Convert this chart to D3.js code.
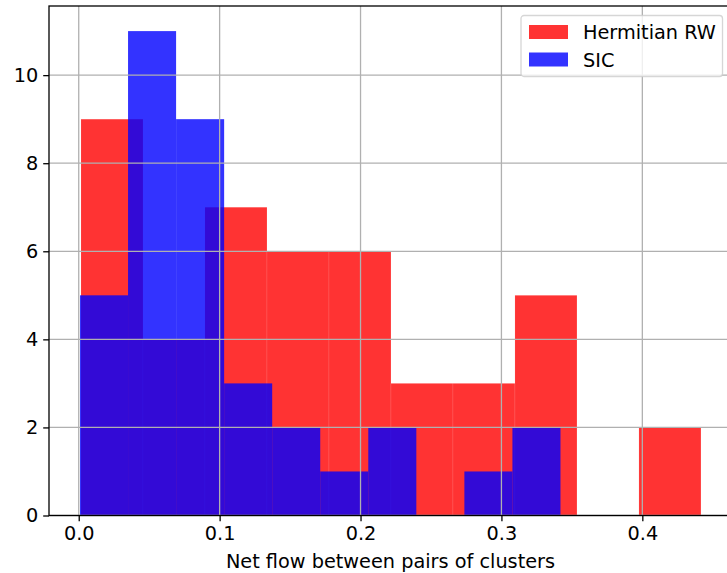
<!DOCTYPE html>
<html>
<head>
<meta charset="utf-8">
<script src="https://cdn.jsdelivr.net/npm/d3@7"></script>
<style>
  body { margin: 0; background: #fff; }
  svg { display: block; font-family: "DejaVu Sans", sans-serif; }
</style>
</head>
<body>
<svg id="chart"></svg>
<script>
var width = 727,
    height = 573,
    fontSize = "19.3px";

// histogram bins
var hermEdges = [0.0016, 0.0456, 0.0896, 0.1336, 0.1776, 0.2216, 0.2656, 0.3096, 0.3536, 0.3976, 0.4416],
    hermCounts = [9, 4, 7, 6, 6, 3, 3, 5, 0, 2];
var sicEdges = [0.0009, 0.0350, 0.0691, 0.1032, 0.1373, 0.1714, 0.2055, 0.2396, 0.2737, 0.3078, 0.3419],
    sicCounts = [5, 11, 9, 3, 2, 1, 2, 0, 1, 2];
var xTicks = [0.0, 0.1, 0.2, 0.3, 0.4],
    yTicks = [0, 2, 4, 6, 8, 10];
var seriesNames = ["Hermitian RW", "SIC"],
    seriesColors = ["#ff0000", "#0000ff"];

var plotLeft = 49, plotTop = 6, plotBottom = 515.5;

var x = d3.scaleLinear()
    .domain([-0.0211, 0.4636])
    .range([plotLeft, plotLeft + 0.4847 * 1409]);

var y = d3.scaleLinear()
    .domain([0, 11.57])
    .range([plotBottom, plotTop]);

var svg = d3.select("#chart").attr("width", width).attr("height", height);

function bins(edges, counts) {
    return counts.map(function(c, i) {
        return { x0: edges[i], x1: edges[i + 1], n: c };
    });
}

function drawBars(data, color, seam) {
    svg.append("g")
        .selectAll("rect")
        .data(data.filter(function(d) { return d.n > 0; }))
        .enter()
        .append("rect")
        .attr("x", function(d) { return x(d.x0); })
        .attr("y", function(d) { return y(d.n); })
        .attr("width", function(d) { return x(d.x1) - x(d.x0); })
        .attr("height", function(d) { return y(0) - y(d.n); })
        .attr("fill", color)
        .attr("fill-opacity", 0.8)
        .attr("stroke", seam ? "#fff" : "none")
        .attr("stroke-opacity", 0.15)
        .attr("stroke-width", 0.6);
}

drawBars(bins(hermEdges, hermCounts), seriesColors[0], true);
drawBars(bins(sicEdges, sicCounts), seriesColors[1], false);

// grid sits on top of the bars
var grid = svg.append("g").attr("stroke", "#b0b0b0").attr("stroke-width", 1.3);
grid.selectAll(".vx")
    .data(xTicks)
    .enter()
    .append("line")
    .attr("x1", function(d) { return x(d); })
    .attr("x2", function(d) { return x(d); })
    .attr("y1", plotTop)
    .attr("y2", plotBottom);
grid.selectAll(".hy")
    .data(yTicks)
    .enter()
    .append("line")
    .attr("x1", plotLeft)
    .attr("x2", x.range()[1])
    .attr("y1", function(d) { return y(d); })
    .attr("y2", function(d) { return y(d); });

// axes
var xAxis = d3.axisBottom(x)
    .tickValues(xTicks)
    .tickFormat(d3.format(".1f"))
    .tickSize(5.8)
    .tickPadding(5);
var yAxis = d3.axisLeft(y)
    .tickValues(yTicks)
    .tickSize(5.8)
    .tickPadding(5);

function styleAxis(g) {
    g.select(".domain").remove();
    g.selectAll("text").attr("font-size", fontSize).attr("fill", "#000").attr("font-family", "DejaVu Sans");
    g.selectAll("line").attr("stroke", "#000").attr("stroke-width", 1.3);
}

svg.append("g")
    .attr("transform", "translate(0," + plotBottom + ")")
    .call(xAxis)
    .call(styleAxis);

svg.append("g")
    .attr("transform", "translate(" + plotLeft + ",0)")
    .call(yAxis)
    .call(styleAxis);

// spines
svg.append("rect")
    .attr("x", plotLeft)
    .attr("y", plotTop)
    .attr("width", x.range()[1] - plotLeft)
    .attr("height", plotBottom - plotTop)
    .attr("fill", "none")
    .attr("stroke", "#000")
    .attr("stroke-width", 1.3);

svg.append("text")
    .attr("x", (plotLeft + x.range()[1]) / 2)
    .attr("y", 568)
    .attr("text-anchor", "middle")
    .attr("font-size", fontSize)
    .text("Net flow between pairs of clusters");

// legend
var legend = svg.append("g").attr("transform", "translate(521,15.5)");
legend.append("rect")
    .attr("width", 201.5)
    .attr("height", 61)
    .attr("rx", 3)
    .attr("fill", "#fff")
    .attr("fill-opacity", 0.8)
    .attr("stroke", "#cccccc")
    .attr("stroke-opacity", 0.8)
    .attr("stroke-width", 1.3);

var items = legend.selectAll(".item")
    .data(seriesNames)
    .enter()
    .append("g")
    .attr("transform", function(d, i) { return "translate(0," + (i * 27.5) + ")"; });
items.append("rect")
    .attr("x", 8)
    .attr("y", 9.5)
    .attr("width", 39)
    .attr("height", 14)
    .attr("fill", function(d, i) { return seriesColors[i]; })
    .attr("fill-opacity", 0.8);
items.append("text")
    .attr("x", 62)
    .attr("y", 23.5)
    .attr("font-size", fontSize)
    .text(function(d) { return d; });
</script>
</body>
</html>
